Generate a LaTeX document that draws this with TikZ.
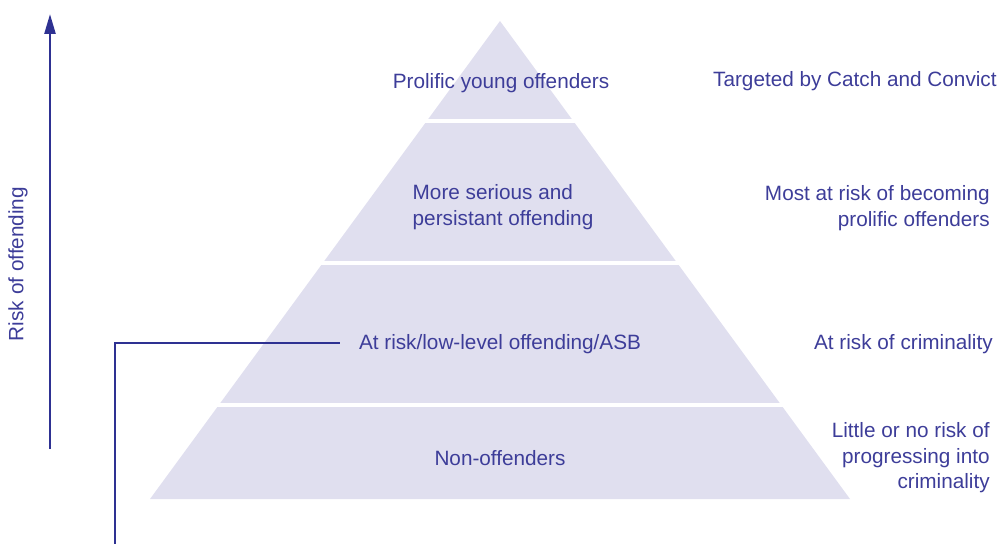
\documentclass[tikz,border=0pt]{standalone}
\usepackage{fontspec}
\setmainfont{Liberation Sans}
\usetikzlibrary{arrows.meta}
\definecolor{pyrfill}{HTML}{E0DFEF}
\definecolor{pyrtext}{HTML}{3D3D99}
\definecolor{pyrline}{HTML}{2E3192}

\begin{document}
\begin{tikzpicture}[x=0.02cm, y=0.02cm,
  lbl/.style={inner sep=0pt, text=pyrtext, font=\fontsize{11.8}{14.5}\selectfont},
  side/.style={lbl, anchor=east, align=right},
  gap/.style={white, line width=0.08cm},
  link/.style={pyrline, line width=1.4pt}]
\useasboundingbox (0,0) rectangle (999,544);

% pyramid
\coordinate (apex) at (500,523);
\coordinate (baseL) at (150,45);
\coordinate (baseR) at (850,45);
\fill[pyrfill] (apex) -- (baseL) -- (baseR) -- cycle;
\draw[gap] (380,423) -- (620,423);
\draw[gap] (280,280.5) -- (720,280.5);
\draw[gap] (180,139) -- (820,139);

% levels
\node[lbl] (prolific) at (501,461) {Prolific young offenders};
\node[lbl, align=left] (serious) at (503,337) {More serious and\\persistant offending};
\node[lbl] (atrisk) at (500,200) {At risk/low-level offending/ASB};
\node[lbl] (nonoff) at (500,86) {Non-offenders};

% right column
\node[side] (targeted) at (997,463) {Targeted by Catch and Convict};
\node[side] (mostrisk) at (990,336) {Most at risk of becoming\\prolific offenders};
\node[side] (crimrisk) at (993,200) {At risk of criminality};
\node[side] (littlerisk) at (990,86) {Little or no risk of\\progressing into\\criminality};

% risk axis
\coordinate (riskbot) at (50,95);
\coordinate (risktop) at (50,530);
\draw[link, -{Triangle[length=0.4cm, width=0.22cm]}] (riskbot) -- (risktop);
\node[lbl, rotate=90] (risklbl) at (18,280) {Risk of offending};

% bracket
\coordinate (brkend) at (115,0);
\draw[link, shorten <=0.38cm] (atrisk.west) ++(0,1) -| (brkend);

\end{tikzpicture}
\end{document}
